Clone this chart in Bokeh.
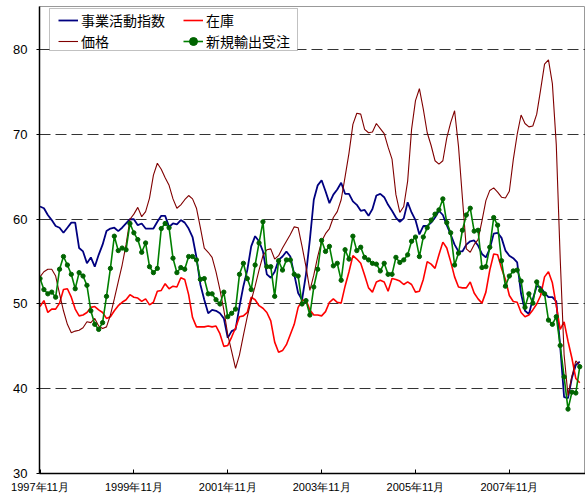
from bokeh.plotting import figure
from bokeh.models import FixedTicker, Legend, LegendItem, Range1d, BoxAnnotation
from bokeh.embed import file_html
from bokeh.resources import INLINE

# ---- data ----
tick_positions = [0, 24, 48, 72, 96, 120]
tick_labels = ["1997年11月", "1999年11月", "2001年11月", "2003年11月", "2005年11月", "2007年11月"]
y_ticks = [30, 40, 50, 60, 70, 80]

biz = [61.5, 61.3, 60.5, 59.9, 59.2, 59.0, 58.4, 59.0, 59.6, 59.6, 56.6, 56.2, 54.8, 55.5, 54.4, 55.8, 57.0, 58.6, 58.9, 59.0,
       58.6, 59.0, 59.5, 60.0, 60.0, 59.3, 59.5, 58.9, 58.9, 58.9, 59.7, 60.4, 60.4, 59.1, 59.5, 59.4, 59.9, 59.6, 58.9, 57.9, 55.5, 52.3,
       50.5, 48.9, 49.3, 49.2, 48.9, 48.3, 46.0, 46.8, 47.0, 49.7, 52.1, 54.0, 56.8, 58.0, 57.4, 56.2, 53.5, 53.1,
       53.8, 55.2, 55.6, 56.2, 55.6, 53.5, 51.3, 50.5, 53.5, 57.6, 62.3, 64.0, 64.6, 63.3, 61.9, 62.9, 63.5, 64.3, 63.0, 63.0, 62.1, 61.7, 61.0,
       61.1, 60.4, 61.2, 62.8, 63.0, 62.6, 61.7, 61.0, 60.2, 59.7, 60.1, 62.0, 60.8, 59.9, 58.2, 59.2, 59.2, 59.6, 60.2, 61.0, 60.5,
       59.3, 58.2, 57.0, 56.2, 56.2, 57.0, 57.4, 57.5, 56.9, 55.9, 55.5, 56.5, 58.3, 58.4, 57.8, 56.3, 55.7, 55.4,
       54.9, 51.2, 49.2, 48.8, 50.6, 52.1, 52.0, 51.3, 50.8, 50.8, 50.3, 45.0, 39.0, 38.9, 41.3, 42.8, 43.2]

inventory = [49.7, 50.4, 49.0, 49.4, 49.4, 50.1, 51.7, 51.8, 50.8, 49.4, 48.6, 48.7, 49.0, 49.6, 49.7, 49.3, 49.0, 48.3, 48.5, 49.2,
             49.8, 50.2, 50.5, 51.1, 50.8, 50.7, 50.3, 50.6, 49.9, 50.2, 51.5, 51.6, 52.4, 51.8, 52.1, 52.0, 53.1, 52.9, 51.1, 48.4, 47.3, 47.3,
             47.3, 47.4, 47.3, 47.4, 46.5, 45.0, 45.1, 46.1, 47.2, 48.5, 48.6, 49.0, 50.8, 50.5, 49.8, 49.5, 49.0, 48.0, 45.5, 44.3, 44.5, 45.2, 46.4, 47.6,
             49.6, 50.4, 50.5, 49.3, 48.7, 48.7, 48.6, 49.1, 50.2, 50.6, 50.2, 50.1, 52.1, 53.8, 55.7, 55.3, 54.8, 53.4, 51.9, 51.4,
             52.6, 52.8, 52.6, 51.5, 53.0, 52.9, 52.7, 52.3, 52.6, 52.3, 51.4, 51.5, 52.9, 55.0, 54.7, 54.2, 55.8, 57.3, 56.6, 55.0,
             53.2, 52.0, 51.9, 51.9, 52.6, 51.3, 50.6, 50.1, 51.4, 54.0, 55.9, 55.8, 54.2, 52.9, 51.0, 50.3,
             50.2, 49.0, 48.5, 48.7, 49.3, 50.0, 51.0, 53.2, 53.8, 52.5, 49.8, 47.0, 47.9, 45.6, 43.6, 41.2, 40.7]

prices = [53.2, 53.8, 54.1, 54.1, 53.3, 51.2, 49.2, 47.6, 46.6, 46.8, 46.9, 47.2, 47.9, 47.8, 48.3, 47.4, 47.1, 47.3, 48.7, 50.6, 52.6, 54.6, 57.0,
          60.0, 60.6, 61.4, 60.3, 60.9, 62.5, 65.2, 66.6, 65.9, 64.9, 64.0, 62.4, 61.3, 61.7, 62.3, 62.8, 62.4, 61.3, 59.0,
          56.6, 56.1, 55.5, 53.8, 51.7, 49.3, 46.4, 44.4, 42.4, 44.0, 46.3, 48.5, 50.4, 52.1, 54.0, 55.7, 56.4, 56.5, 55.3, 55.7,
          56.6, 57.4, 58.2, 59.1, 59.0, 56.8, 54.4, 51.6, 53.4, 55.6, 57.4, 58.3, 58.9, 60.2, 60.9, 62.3, 65.0, 67.8, 71.2, 72.5,
          72.4, 70.6, 70.2, 70.3, 71.3, 70.7, 70.1, 68.5, 67.1, 62.9, 60.8, 61.5, 64.5, 70.6, 74.0, 75.4, 73.0, 70.2, 68.7, 66.9,
          66.5, 66.9, 69.6, 71.4, 72.8, 68.6, 62.5, 56.5, 56.1, 57.0, 57.6, 59.8, 62.2, 63.4, 63.7, 63.2, 62.6, 62.5, 63.3, 67.0, 70.0,
          72.3, 71.3, 70.9, 71.0, 72.4, 75.3, 78.3, 78.8, 76.0, 68.8, 55.4, 44.0, 39.2, 41.5, 43.3, 42.8]

exports = [53.0, 51.7, 51.2, 51.4, 50.8, 54.1, 55.6, 54.6, 53.5, 51.8, 53.7, 53.3, 52.2, 49.2, 47.6, 47.0, 47.8, 50.9, 54.2, 58.0, 56.3,
           56.6, 56.4, 59.5, 58.4, 57.6, 56.1, 57.2, 54.4, 53.7, 54.2, 58.9, 59.5, 59.0, 55.4, 53.7, 54.3, 54.1, 55.6, 55.6, 55.2,
           52.9, 53.0, 51.2, 51.2, 50.5, 50.0, 51.4, 48.5, 48.9, 49.4, 53.5, 54.8, 53.0, 51.7, 54.6, 57.2, 59.7, 54.4, 54.4, 50.9, 55.1,
           54.0, 55.2, 55.2, 53.5, 53.3, 50.0, 50.4, 48.7, 52.0, 54.1, 57.5, 56.2, 56.8, 54.5, 54.8, 52.8, 56.4, 55.3, 58.0, 56.3,
           56.7, 55.5, 55.2, 54.8, 54.7, 53.9, 54.8, 53.5, 53.5, 55.5, 54.9, 55.2, 55.8, 57.4, 57.9, 55.6, 57.9, 59.0, 59.9,
           60.6, 61.1, 62.4, 59.6, 58.4, 54.6, 56.0, 58.7, 60.5, 61.3, 58.6, 58.7, 54.3, 54.4, 56.7, 60.2, 59.3, 55.1, 52.1, 53.3, 53.9,
           54.0, 52.7, 49.6, 51.2, 50.1, 52.6, 51.6, 51.2, 48.1, 47.6, 48.5, 45.1, 41.4, 37.6, 39.6, 39.5, 42.6]

x = list(range(len(biz)))

# ---- figure ----
p = figure(width=585, height=497, output_backend="svg", toolbar_location=None,
           x_range=Range1d(-0.13, 139.47), y_range=Range1d(30, 85.1),
           min_border_left=39, min_border_right=0, min_border_top=6, min_border_bottom=24)
p.background_fill_color = "white"
p.border_fill_color = "white"
p.outline_line_color = "#999999"
p.outline_line_width = 1

r_biz = p.line(x, biz, line_color="#000080", line_width=1.8)
r_inv = p.line(x, inventory, line_color="#FF0000", line_width=1.6)
r_prices = p.line(x, prices, line_color="#800000", line_width=1.1)
r_exp = p.line(x, exports, line_color="#008000", line_width=1.6)
r_exp_pts = p.scatter(x, exports, size=4.3, marker="circle", fill_color="#006400", line_color="#006400")

# axes
p.xgrid.visible = False
p.ygrid.ticker = FixedTicker(ticks=[40, 50, 60, 70, 80])
p.ygrid.grid_line_color = "#333333"
p.ygrid.grid_line_dash = "11 5"
p.ygrid.grid_line_width = 1

p.yaxis.ticker = FixedTicker(ticks=y_ticks)
p.yaxis.major_tick_out = 3
p.yaxis.major_tick_in = 0
p.yaxis.minor_tick_line_color = None
p.yaxis.axis_line_width = 1.5
p.yaxis.axis_line_color = "black"
p.yaxis.major_tick_line_color = "black"
p.yaxis.major_label_text_font = "Liberation Sans"
p.yaxis.major_label_text_font_size = "13px"
p.yaxis.major_label_text_color = "black"
p.yaxis.major_label_standoff = 9

p.xaxis.ticker = FixedTicker(ticks=tick_positions)
p.xaxis.major_label_overrides = {t: l for t, l in zip(tick_positions, tick_labels)}
p.xaxis.major_tick_in = 4
p.xaxis.major_tick_out = 0
p.xaxis.minor_tick_line_color = None
p.xaxis.axis_line_width = 1.5
p.xaxis.axis_line_color = "black"
p.xaxis.major_tick_line_color = "black"
p.xaxis.major_label_text_font = "Liberation Sans"
p.xaxis.major_label_text_font_size = "11px"
p.xaxis.major_label_text_color = "black"
p.xaxis.major_label_standoff = 7

# legend frame
box = BoxAnnotation(left=10, right=258, bottom=423, top=465,
                    left_units="screen", right_units="screen", top_units="screen", bottom_units="screen",
                    fill_color="white", fill_alpha=1.0, line_color="#333333", line_width=1)
p.add_layout(box)

legend = Legend(items=[
    LegendItem(label="事業活動指数", renderers=[r_biz]),
    LegendItem(label="価格", renderers=[r_prices]),
    LegendItem(label="在庫", renderers=[r_inv]),
    LegendItem(label="新規輸出受注", renderers=[r_exp, r_exp_pts]),
], location=(19, 422), nrows=2)
legend.label_text_font = "Noto Sans CJK JP"
legend.label_text_font_size = "14px"
legend.label_text_color = "black"
legend.glyph_width = 20
legend.glyph_height = 20
legend.label_height = 20
legend.label_width = 101
legend.label_standoff = 3
legend.padding = 0
legend.spacing = 1
legend.margin = 0
legend.border_line_color = None
legend.background_fill_alpha = 0
p.add_layout(legend)

open("out.html", "w").write(file_html(p, INLINE))
